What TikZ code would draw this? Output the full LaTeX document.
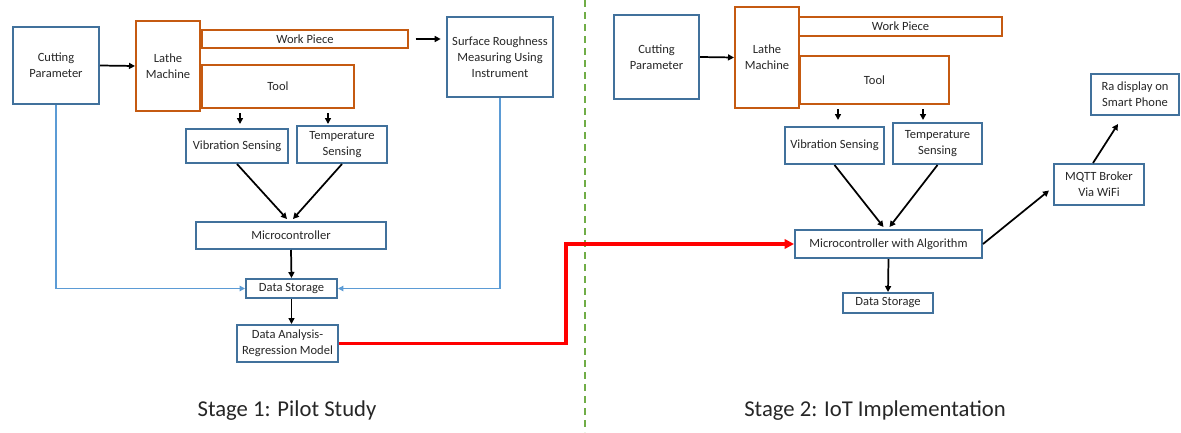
\documentclass[tikz,border=0pt]{standalone}
\usepackage{fontspec}
\setmainfont{Carlito}
\usetikzlibrary{calc}
\usetikzlibrary{arrows.meta}
\definecolor{boxblue}{HTML}{41719C}
\definecolor{boxorange}{HTML}{C55A11}
\definecolor{lineblue}{HTML}{5B9BD5}
\definecolor{divgreen}{HTML}{70AD47}
\definecolor{txt}{HTML}{262626}
\tikzset{blk/.style={draw=boxblue, line width=1.5pt, inner sep=0pt, align=center,
  text=txt, font=\fontsize{9.4}{12}\selectfont},
  orng/.style={blk, draw=boxorange},
  sz/.style 2 args={minimum width=#1*0.75pt, minimum height=#2*0.75pt},
  arr/.style={-{Triangle[length=4.5pt,width=4.5pt]}, line width=1.3pt},
  bluearr/.style={-{Triangle[length=4pt,width=4pt]}, line width=1.4pt, draw=lineblue},
  redarr/.style={-{Triangle[length=7pt,width=7pt]}, line width=2.4pt, draw=red},
  caption/.style={font=\fontsize{17}{20}\selectfont, text=txt}}

\begin{document}
\begin{tikzpicture}[x=0.75pt, y=-0.75pt]
	\useasboundingbox (0,0) rectangle (1181,432);
	
	% stage 1
	\node[blk, sz={86}{77}] (cut1) at (56,65.5) {Cutting\\Parameter};
	\node[orng, sz={64}{90}] (lathe1) at (168,66) {Lathe\\Machine};
	\node[orng, sz={206}{18}] (wp1) at (305,39) {Work Piece};
	\node[orng, sz={152}{43}] (tool1) at (278,86.5) {Tool};
	\node[blk, sz={102}{34}] (vib1) at (237,146) {Vibration Sensing};
	\node[blk, sz={90}{37}] (temp1) at (342,144.5) {Temperature\\Sensing};
	\node[blk, sz={106}{80}] (srm) at (500,57) {Surface Roughness\\Measuring Using\\Instrument};
	\node[blk, sz={190}{27}] (mc1) at (291,235.5) {Microcontroller};
	\node[blk, sz={91}{19}] (ds1) at (291.5,288.5) {Data Storage};
	\node[blk, sz={101}{37}] (da1) at (287.5,343.5) {Data Analysis-\\Regression Model};
	
	\draw[arr] (cut1.east) -- (lathe1.west);
	\draw[arr, shorten <=5pt, shorten >=4pt] (wp1.east) -- (wp1.east -| srm.west);
	\draw[arr, shorten <=3pt] (tool1.south -| 240,0) -- (240,124);
	\draw[arr, shorten <=3pt] (tool1.south -| 328,0) -- (328,124);
	\draw[arr] (vib1.south) -- ($(mc1.north)+(-4,-2)$);
	\draw[arr] (temp1.south) -- ($(mc1.north)+(2,-2)$);
	\draw[arr] (mc1.south) -- (ds1.north);
	\draw[arr] (ds1.south) -- (ds1.south |- da1.north);
	
	\draw[bluearr] (cut1.south) |- (ds1.west);
	\draw[bluearr] (srm.south) |- (ds1.east);
	
	% divider
	\draw[divgreen, line width=1.1pt, dash pattern=on 5pt off 4pt] (585,0) -- (585,432);
	
	% stage 2
	\node[blk, sz={85}{84}] (cut2) at (656.5,57) {Cutting\\Parameter};
	\node[orng, sz={64}{101}] (lathe2) at (767,57.5) {Lathe\\Machine};
	\node[orng, sz={203}{19}] (wp2) at (900.5,26.5) {Work Piece};
	\node[orng, sz={149}{48}] (tool2) at (874.5,80) {Tool};
	\node[blk, sz={99}{37}] (vib2) at (834.5,145.5) {Vibration Sensing};
	\node[blk, sz={89}{41}] (temp2) at (937.5,143.5) {Temperature\\Sensing};
	\node[blk, sz={187}{28}] (mwa) at (888.5,244) {Microcontroller with Algorithm};
	\node[blk, sz={90}{20}] (ds2) at (888,303) {Data Storage};
	\node[blk, sz={90}{41}] (mqtt) at (1099,184.5) {MQTT Broker\\Via WiFi};
	\node[blk, sz={88}{41}] (ra) at (1135,94.5) {Ra display on\\Smart Phone};
	
	\draw[arr] (cut2.east) -- (lathe2.west);
	\draw[arr, shorten <=3pt] (tool2.south -| 838,0) -- (838,120);
	\draw[arr, shorten <=3pt] (tool2.south -| 923,0) -- (923,120);
	\draw[arr] (vib2.south) -- ($(mwa.north)+(-5,-2)$);
	\draw[arr] (temp2.south) -- ($(mwa.north)+(1,-2)$);
	\draw[arr] (mwa.south) -- (ds2.north);
	\draw[arr] (mwa.east) -- ($(mqtt.west)+(-4,6)$);
	\draw[arr] ($(mqtt.north)+(-6,0)$) -- ($(ra.south)+(-17,8)$);
	
	% link between stages
	\draw[redarr] (da1.east) -- (566,0 |- da1.east) |- (mwa.west);
	
	\node[caption] (cap1) at (287,411) {Stage 1: Pilot Study};
	\node[caption] (cap2) at (875,411) {Stage 2: IoT Implementation};
\end{tikzpicture}
\end{document}
